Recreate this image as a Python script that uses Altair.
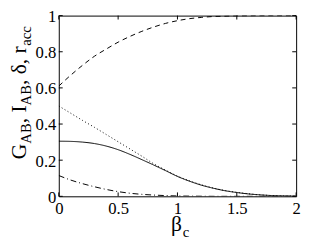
import altair as alt
import pandas as pd

beta = [0.0, 0.1, 0.2, 0.3, 0.4, 0.5, 0.6, 0.7, 0.8, 0.9, 1.0,
        1.1, 1.2, 1.3, 1.4, 1.5, 1.6, 1.7, 1.8, 1.9, 2.0]
dashed = [0.61, 0.67, 0.725, 0.775, 0.815, 0.853, 0.885, 0.913, 0.937, 0.957, 0.972,
          0.983, 0.990, 0.995, 0.997, 0.999, 0.9995, 1.0, 1.0, 1.0, 1.0]
dotted = [0.50, 0.46, 0.42, 0.382, 0.342, 0.302, 0.262, 0.222, 0.18, 0.145, 0.112,
          0.086, 0.064, 0.046, 0.032, 0.022, 0.014, 0.008, 0.004, 0.002, 0.001]
solid = [0.305, 0.304, 0.300, 0.292, 0.278, 0.258, 0.232, 0.203, 0.173, 0.142, 0.110,
         0.084, 0.062, 0.045, 0.031, 0.021, 0.013, 0.008, 0.004, 0.002, 0.001]
dashdot = [0.115, 0.09, 0.07, 0.053, 0.038, 0.026, 0.017, 0.011, 0.007, 0.004, 0.002,
           0.001, 0.0005, 0.0, 0.0, 0.0, 0.0, 0.0, 0.0, 0.0, 0.0]

x_ticks = [0, 0.5, 1, 1.5, 2]
y_ticks = [0, 0.2, 0.4, 0.6, 0.8, 1]

series_names = ["dashed", "dotted", "solid", "dashdot"]
series_vals = [dashed, dotted, solid, dashdot]

W, H = 243, 185
FONT = "Liberation Serif"

rows = []
for name, vals in zip(series_names, series_vals):
    for b, v in zip(beta, vals):
        rows.append({"beta": b, "val": v, "s": name})
df = pd.DataFrame(rows)

xs = alt.Scale(domain=[0, 2], nice=False, zero=False)
ys = alt.Scale(domain=[0, 1], nice=False, zero=False)
x_axis = alt.Axis(values=x_ticks, format="~g", title=None, ticks=False, domain=False,
                  grid=False, labelFont=FONT, labelFontSize=17, labelColor="black",
                  labelPadding=5, labelFlush=False)
y_axis = alt.Axis(values=y_ticks, format="~g", title=None, ticks=False, domain=False,
                  grid=False, labelFont=FONT, labelFontSize=17, labelColor="black",
                  labelPadding=3, labelFlush=False, labelOffset=1)

lines = alt.Chart(df).mark_line(color="black", strokeWidth=1, interpolate="monotone", clip=True).encode(
    x=alt.X("beta:Q", scale=xs, axis=x_axis),
    y=alt.Y("val:Q", scale=ys, axis=y_axis),
    strokeDash=alt.StrokeDash("s:N", scale=alt.Scale(domain=series_names,
                                                     range=[[5, 4], [1, 2.5], [1, 0], [6, 3, 1, 3]]),
                              legend=None),
    detail="s:N",
)

xt = pd.DataFrame({"v": x_ticks})
yt = pd.DataFrame({"v": y_ticks})
tick_len = 4
bottom_ticks = alt.Chart(xt).mark_rule(color="black", strokeWidth=1).encode(
    x=alt.X("v:Q", scale=xs, axis=x_axis), y=alt.value(H), y2=alt.value(H - tick_len))
top_ticks = alt.Chart(xt).mark_rule(color="black", strokeWidth=1).encode(
    x=alt.X("v:Q", scale=xs, axis=x_axis), y=alt.value(0), y2=alt.value(tick_len))
left_ticks = alt.Chart(yt).mark_rule(color="black", strokeWidth=1).encode(
    y=alt.Y("v:Q", scale=ys, axis=y_axis), x=alt.value(0), x2=alt.value(tick_len))
right_ticks = alt.Chart(yt).mark_rule(color="black", strokeWidth=1).encode(
    y=alt.Y("v:Q", scale=ys, axis=y_axis), x=alt.value(W), x2=alt.value(W - tick_len))

# y title segments: (text, is_subscript)
ytitle = [("G", False), ("AB", True), (", I", False), ("AB", True), (", δ, r", False), ("acc", True)]
MAINF, SUBF = 22, 15
adv = {"G": 0.722, "A": 0.722, "B": 0.667, ",": 0.25, " ": 0.25, "I": 0.333,
       "δ": 0.494, "r": 0.333, "a": 0.444, "c": 0.444}
texts = []
ypos = 147.0
for seg, sub in ytitle:
    fs = SUBF if sub else MAINF
    xpos = -28 if sub else -34
    texts.append(alt.Chart(pd.DataFrame({"t": [seg]})).mark_text(
        font=FONT, fontSize=fs, angle=270, align="left", baseline="alphabetic", color="black"
    ).encode(text="t:N", x=alt.value(xpos), y=alt.value(ypos)))
    ypos -= sum(adv.get(ch, 0.5) for ch in seg) * fs

texts.append(alt.Chart(pd.DataFrame({"t": ["β"]})).mark_text(
    font=FONT, fontSize=MAINF, align="left", baseline="alphabetic", color="black"
).encode(text="t:N", x=alt.value(115), y=alt.value(221)))
texts.append(alt.Chart(pd.DataFrame({"t": ["c"]})).mark_text(
    font=FONT, fontSize=SUBF, align="left", baseline="alphabetic", color="black"
).encode(text="t:N", x=alt.value(127), y=alt.value(227)))

chart = alt.layer(lines, bottom_ticks, top_ticks, left_ticks, right_ticks, *texts).properties(
    width=W, height=H,
    autosize=alt.AutoSizeParams(type="none"),
    padding={"left": 52, "top": 5, "right": 6, "bottom": 45},
    background="white",
).configure_view(stroke="black", strokeWidth=1)

chart.save("out.html", embed_options={"renderer": "svg", "actions": False})
